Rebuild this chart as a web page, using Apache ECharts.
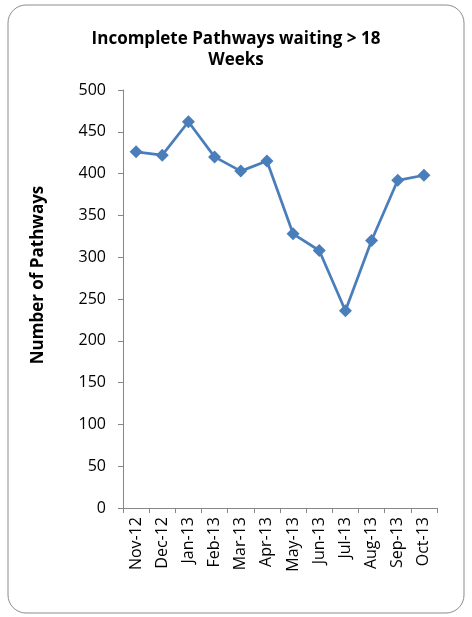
<!DOCTYPE html>
<html><head><meta charset="utf-8">
<script src="https://cdn.jsdelivr.net/npm/echarts@6/dist/echarts.min.js"></script>
<style>html,body{margin:0;padding:0;background:#fff}#c{width:472px;height:617px}</style>
</head><body><div id="c"></div>
<script>
const categories = ['Nov-12','Dec-12','Jan-13','Feb-13','Mar-13','Apr-13','May-13','Jun-13','Jul-13','Aug-13','Sep-13','Oct-13'];
const pathways = [426, 422, 462, 420, 403, 415, 328, 308, 236, 320, 392, 398];
const yTicks = {min: 0, max: 500, interval: 50};
const titleText = 'Incomplete Pathways waiting > 18\nWeeks';
const yName = 'Number of Pathways';

const font = 'Open Sans';
const chart = echarts.init(document.getElementById('c'));
chart.setOption({
  animation: false,
  backgroundColor: '#fff',
  title: {
    text: titleText,
    left: 'center', top: 24,
    textStyle: {fontFamily: font, fontSize: 17, fontWeight: 'bold', color: '#000', lineHeight: 21}
  },
  graphic: [
    {type: 'rect', shape: {x: 8, y: 5, width: 456, height: 608, r: 18},
     style: {fill: 'none', stroke: '#8c8c8c', lineWidth: 1}, z: -1},
    {type: 'text', x: 38, y: 275, rotation: Math.PI/2,
     style: {text: yName, fontFamily: font, fontSize: 17, fontWeight: 'bold', fill: '#000', align: 'center', verticalAlign: 'middle'}}
  ],
  grid: {left: 123, right: 35, top: 90, bottom: 109, containLabel: false},
  xAxis: {
    type: 'category', data: categories, boundaryGap: true,
    axisLine: {lineStyle: {color: '#868686'}},
    axisTick: {show: true, length: 5, alignWithLabel: false, lineStyle: {color: '#868686'}},
    axisLabel: {rotate: 90, interval: 0, fontFamily: font, fontSize: 16, color: '#000', margin: 9}
  },
  yAxis: {
    type: 'value', min: yTicks.min, max: yTicks.max, interval: yTicks.interval,
    axisLine: {show: true, lineStyle: {color: '#868686'}},
    axisTick: {show: true, length: 5, lineStyle: {color: '#868686'}},
    splitLine: {show: false},
    axisLabel: {fontFamily: font, fontSize: 16, color: '#000', margin: 17}
  },
  series: [{
    type: 'line', data: pathways,
    symbol: 'diamond', symbolSize: 13,
    lineStyle: {color: '#4a7ebb', width: 2.75},
    itemStyle: {color: '#4a7ebb'}
  }]
});
</script></body></html>
